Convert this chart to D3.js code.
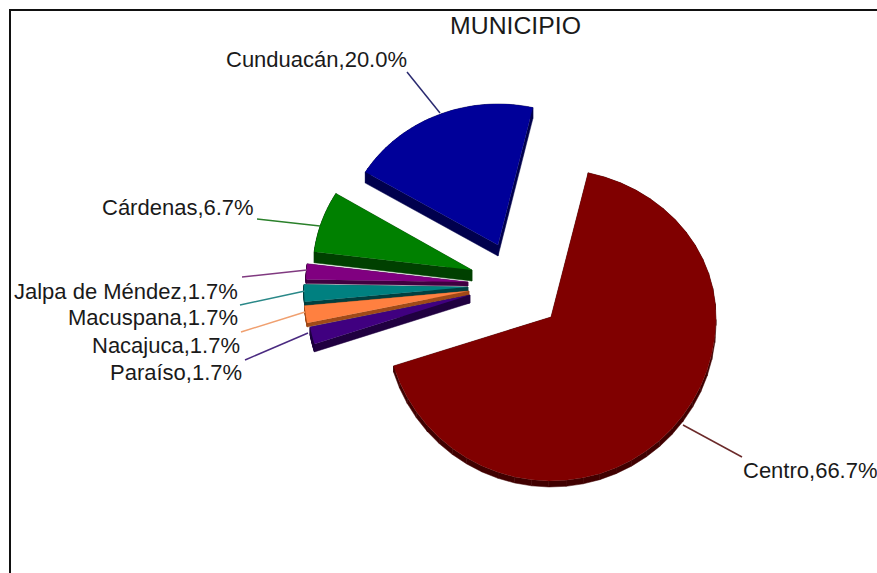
<!DOCTYPE html>
<html><head><meta charset="utf-8">
<style>html,body{margin:0;padding:0;background:#fff}svg{display:block}text{font-family:"Liberation Sans",Arial,sans-serif;fill:#1a1a1a}</style>
<script src="https://cdn.jsdelivr.net/npm/d3@7"></script></head><body>
<svg id="c" width="877" height="573"></svg>
<script>
const categories=["Centro","Paraíso","Nacajuca","Macuspana","Jalpa de Méndez","Cárdenas","Cunduacán"];
const values=[66.7,1.7,1.7,1.7,1.7,6.7,20.0];
const colors=["#800000","#400080","#ff8040","#008080","#800080","#008000","#000099"];
const sideColors=["#400000","#200040","#a04a18","#004040","#400040","#004000","#00004d"];
const leadColors=["#6b2a2a","#4a2a80","#f0a070","#2a8888","#803a80","#2a802a","#2a2a70"];
const apexX=[551,470,469,468,468,472,498];
const apexY=[317,295,291,287,282,270,245];
const radX=[165,163,165,164,162,159,155];
const radUp=[148,148,148,148,148,148,141];
const radDown=[164,164,164,164,164,164,164];
const depth=[6,8,4,4,4,11,11];
const labelX=[743,110,92,68,14,102,226];
const labelY=[478,380,353,325,299,215,67];
const leadX1=[683,308,305,305,307,320,440];
const leadY1=[425,333,312,291,270,226,113];
const leadX2=[742,245,241,240,242,257,407];
const leadY2=[457,360,332,305,277,219,72];
const title="MUNICIPIO";

const svg=d3.select("#c");
svg.append("rect").attr("x",10).attr("y",10).attr("width",890).attr("height",590).attr("fill","#fff").attr("stroke","#111").attr("stroke-width",2);
svg.append("text").attr("x",515.5).attr("y",34).attr("text-anchor","middle").attr("font-size",24.8).text(title);

const pie=d3.pie().sort(null).startAngle(13*Math.PI/180).endAngle(373*Math.PI/180);
const arcs=pie(values);
const line=d3.line();
function pt(i,a){const s=Math.sin(a),c=Math.cos(a);
  return [apexX[i]+radX[i]*s, apexY[i]-c*(c>0?radUp[i]:radDown[i])];}
function rim(i,d){return d3.range(0,41).map(k=>pt(i,d.startAngle+(d.endAngle-d.startAngle)*k/40));}

const order=[6,5,4,3,2,1,0];
order.forEach(i=>{
  const d=arcs[i],r=rim(i,d),ax=apexX[i],ay=apexY[i],h=depth[i];
  const shift=p=>[p[0],p[1]+h];
  const a=[ax,ay];
  const g=svg.append("g");
  const outline=[a,...r];
  outline.forEach((p,k)=>{const q=outline[(k+1)%outline.length];
    g.append("path").attr("d",line([p,q,shift(q),shift(p)])+"Z").attr("fill",sideColors[i]).attr("stroke",sideColors[i]).attr("stroke-width",0.5);});
  g.append("path").attr("d",line(outline)+"Z").attr("fill",colors[i]);
});
order.forEach(i=>{
  svg.append("line").attr("x1",leadX1[i]).attr("y1",leadY1[i]).attr("x2",leadX2[i]).attr("y2",leadY2[i]).attr("stroke",leadColors[i]).attr("stroke-width",1.5);
  svg.append("text").attr("x",labelX[i]).attr("y",labelY[i]).attr("font-size",22).text(categories[i]+","+d3.format(".1f")(values[i])+"%");
});
</script></body></html>
